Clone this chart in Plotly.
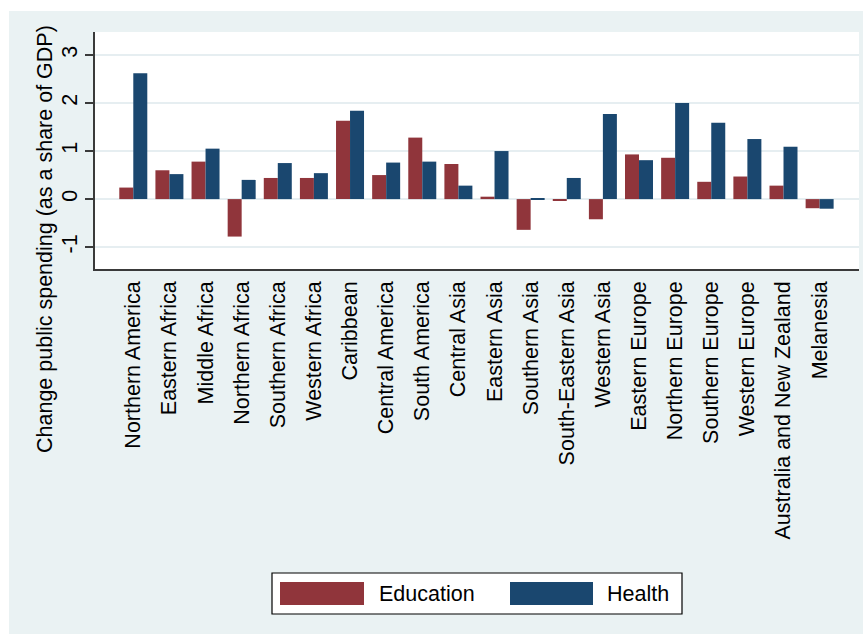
import plotly.graph_objects as go

# Regions and change in public spending (percentage points of GDP)
regions = [
    "Northern America", "Eastern Africa", "Middle Africa", "Northern Africa",
    "Southern Africa", "Western Africa", "Caribbean", "Central America",
    "South America", "Central Asia", "Eastern Asia", "Southern Asia",
    "South-Eastern Asia", "Western Asia", "Eastern Europe", "Northern Europe",
    "Southern Europe", "Western Europe", "Australia and New Zealand", "Melanesia",
]
education = [0.24, 0.60, 0.78, -0.78, 0.44, 0.44, 1.63, 0.50, 1.28, 0.73,
             0.05, -0.64, -0.04, -0.42, 0.93, 0.86, 0.36, 0.47, 0.28, -0.19]
health = [2.62, 0.52, 1.05, 0.40, 0.75, 0.54, 1.84, 0.76, 0.78, 0.28,
          1.00, 0.02, 0.44, 1.77, 0.81, 2.00, 1.59, 1.25, 1.09, -0.20]
y_ticks = [-1, 0, 1, 2, 3]

EDU_COLOR = "#90353b"
HEALTH_COLOR = "#1a476f"
BG = "#eaf2f3"
GRID = "#e6eef1"
AXIS = "#3a3a3a"
FONT = "Liberation Sans, Arial, sans-serif"
FS = 21.5

W, H = 863, 634
ML, MR, MT, MB = 95, 4, 32, 365
PW, PH = W - ML - MR, H - MT - MB


def px(x):
    return (x - ML) / PW


def py(y):
    return 1 - (y - MT) / PH


fig = go.Figure()
fig.add_trace(go.Bar(x=regions, y=education, name="Education",
                     marker=dict(color=EDU_COLOR, line=dict(width=0))))
fig.add_trace(go.Bar(x=regions, y=health, name="Health",
                     marker=dict(color=HEALTH_COLOR, line=dict(width=0))))

shapes = [
    # white page margin around the graph region
    dict(type="rect", xref="paper", yref="paper", x0=px(0), x1=px(9), y0=py(H), y1=py(0),
         fillcolor="white", line=dict(width=0), layer="below"),
    dict(type="rect", xref="paper", yref="paper", x0=px(0), x1=px(W), y0=py(11), y1=py(0),
         fillcolor="white", line=dict(width=0), layer="below"),
    # legend box and keys
    dict(type="rect", xref="paper", yref="paper", x0=px(272), x1=px(682), y0=py(614), y1=py(573),
         fillcolor="white", line=dict(color="black", width=1.2)),
    dict(type="rect", xref="paper", yref="paper", x0=px(280), x1=px(364), y0=py(605), y1=py(582),
         fillcolor=EDU_COLOR, line=dict(width=0)),
    dict(type="rect", xref="paper", yref="paper", x0=px(510), x1=px(593), y0=py(605), y1=py(582),
         fillcolor=HEALTH_COLOR, line=dict(width=0)),
]

annotations = [
    dict(text="Change public spending (as a share of GDP)", xref="paper", yref="paper",
         x=px(45), y=py(239), xanchor="center", yanchor="middle", textangle=-90,
         showarrow=False, font=dict(family=FONT, size=FS, color="black")),
    dict(text="Education", xref="paper", yref="paper", x=px(377), y=py(594),
         xanchor="left", yanchor="middle", showarrow=False,
         font=dict(family=FONT, size=FS, color="black")),
    dict(text="Health", xref="paper", yref="paper", x=px(605), y=py(594),
         xanchor="left", yanchor="middle", showarrow=False,
         font=dict(family=FONT, size=FS, color="black")),
]

fig.update_layout(
    width=W, height=H,
    margin=dict(l=ML, r=MR, t=MT, b=MB, pad=0),
    paper_bgcolor=BG, plot_bgcolor="white",
    barmode="group", bargap=0.225, bargroupgap=0,
    showlegend=False,
    font=dict(family=FONT, size=FS, color="black"),
    shapes=shapes, annotations=annotations,
    xaxis=dict(
        type="category", range=[-1.06, 20.09],
        tickangle=-90, showgrid=False, zeroline=False,
        showline=True, linecolor=AXIS, linewidth=1.5,
        ticks="", ticklabelstandoff=2,
        tickfont=dict(family=FONT, size=FS, color="black"),
    ),
    yaxis=dict(
        range=[-1.455, 3.478], tickvals=y_ticks, ticktext=[str(v) for v in y_ticks],
        tickangle=-90, showgrid=True, gridcolor=GRID, gridwidth=1.5,
        zeroline=False, showline=True, linecolor=AXIS, linewidth=1.5,
        ticks="outside", ticklen=8, tickwidth=1.5, tickcolor=AXIS,
        tickfont=dict(family=FONT, size=FS, color="black"),
    ),
)

fig.write_html("out.html")
